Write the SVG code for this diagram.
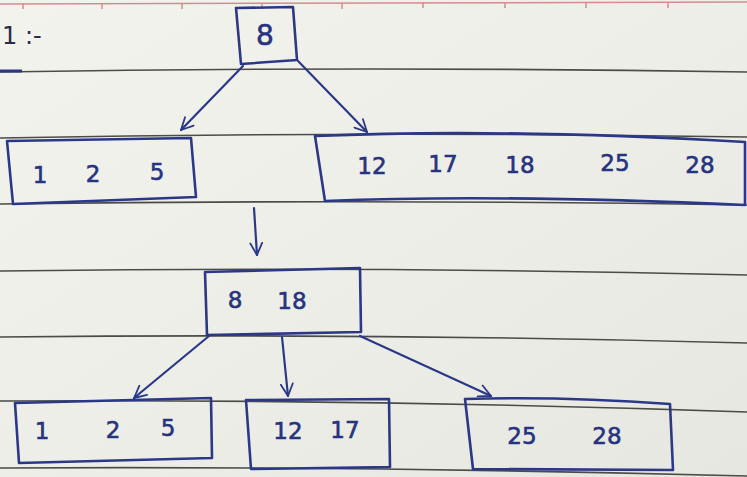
<svg xmlns="http://www.w3.org/2000/svg" width="747" height="477" viewBox="0 0 747 477">
  <defs>
    <linearGradient id="paper" x1="0" y1="0" x2="1" y2="1">
      <stop offset="0" stop-color="#f3f3ee"/>
      <stop offset="0.5" stop-color="#eeeee8"/>
      <stop offset="1" stop-color="#e6e7e1"/>
    </linearGradient>
    <marker id="arr" viewBox="0 0 14 14" refX="13" refY="7" markerWidth="14" markerHeight="14" markerUnits="userSpaceOnUse" orient="auto">
      <path d="M1,1 L13,7 L1,13" fill="none" stroke="#2b3888" stroke-width="1.8" stroke-linecap="round" stroke-linejoin="round"/>
    </marker>
    <style>
      .rule { fill: none; stroke: #4b4c48; stroke-width: 1.6; }
      .margin { fill: none; stroke: #d98a8f; stroke-width: 1.5; }
      .box { fill: none; stroke: #2b3888; stroke-width: 2.6; stroke-linejoin: round; }
      .edge { fill: none; stroke: #2b3888; stroke-width: 2.2; stroke-linecap: round; marker-end: url(#arr); }
      .num { font-family: "DejaVu Sans", "Liberation Sans", sans-serif; fill: #26337f; font-size: 23px; stroke: #26337f; stroke-width: 0.6; }
      .big { font-size: 28px; }
      .note { font-family: "DejaVu Sans", "Liberation Sans", sans-serif; fill: #2a2c4a; font-size: 24px; }
    </style>
  </defs>

  <!-- paper -->
  <rect x="0" y="0" width="747" height="477" fill="url(#paper)"/>
  <path class="margin" d="M0,4 L747,2"/>
  <g class="margin">
    <path d="M23,3 V9"/><path d="M102,3 V9"/><path d="M182,3 V9"/><path d="M262,3 V9"/>
    <path d="M342,3 V9"/><path d="M423,2 V8"/><path d="M505,2 V8"/><path d="M586,2 V8"/><path d="M668,2 V8"/>
  </g>
  <g id="ruled-lines">
    <path class="rule" d="M0,72 Q373,66 747,72"/>
    <path class="rule" d="M0,138 Q373,131 747,137"/>
    <path class="rule" d="M0,204 Q373,199 747,205"/>
    <path class="rule" d="M0,271 Q373,266 747,275"/>
    <path class="rule" d="M0,337 Q373,333 747,343"/>
    <path class="rule" d="M0,401 Q373,399 747,412"/>
    <path class="rule" d="M0,468 Q373,466 747,476"/>
  </g>
  <path d="M0,71 L22,71" stroke="#2b3888" stroke-width="3" fill="none"/>
  <text class="note" x="2" y="44">1 :-</text>

  <!-- connectors -->
  <g id="connectors">
    <path class="edge" d="M243,66 L181,130"/>
    <path class="edge" d="M298,61 L367,132"/>
    <path class="edge" d="M254,208 L257,255"/>
    <path class="edge" d="M209,336 L134,398"/>
    <path class="edge" d="M282,337 L288,396"/>
    <path class="edge" d="M360,336 Q430,368 491,396"/>
  </g>

  <!-- nodes -->
  <g id="root-8">
    <path class="box" d="M236,8 L293,7 L297,60 L241,64 Z"/>
    <text class="num big" x="265" y="45" text-anchor="middle">8</text>
  </g>
  <g id="left-1-2-5">
    <path class="box" d="M7,141 L191,138 L196,197 L13,204 Z"/>
    <text class="num" x="40" y="183" text-anchor="middle">1</text>
    <text class="num" x="93" y="182" text-anchor="middle">2</text>
    <text class="num" x="157" y="180" text-anchor="middle">5</text>
  </g>
  <g id="right-12-17-18-25-28">
    <path class="box" d="M315,136 Q500,128 745,142 L745,205 Q500,194 325,201 Z"/>
    <text class="num" x="372" y="174" text-anchor="middle">12</text>
    <text class="num" x="443" y="172" text-anchor="middle">17</text>
    <text class="num" x="520" y="173" text-anchor="middle">18</text>
    <text class="num" x="615" y="171" text-anchor="middle">25</text>
    <text class="num" x="700" y="173" text-anchor="middle">28</text>
  </g>
  <g id="mid-8-18">
    <path class="box" d="M205,272 L360,268 L361,332 L207,335 Z"/>
    <text class="num" x="235" y="308" text-anchor="middle">8</text>
    <text class="num" x="292" y="309" text-anchor="middle">18</text>
  </g>
  <g id="bottom-1-2-5">
    <path class="box" d="M15,403 L211,398 L212,458 L19,463 Z"/>
    <text class="num" x="42" y="439" text-anchor="middle">1</text>
    <text class="num" x="113" y="438" text-anchor="middle">2</text>
    <text class="num" x="168" y="436" text-anchor="middle">5</text>
  </g>
  <g id="bottom-12-17">
    <path class="box" d="M246,400 L389,399 L390,467 L251,469 Z"/>
    <text class="num" x="288" y="439" text-anchor="middle">12</text>
    <text class="num" x="345" y="438" text-anchor="middle">17</text>
  </g>
  <g id="bottom-25-28">
    <path class="box" d="M465,399 Q560,396 670,404 L673,470 L473,469 Z"/>
    <text class="num" x="522" y="444" text-anchor="middle">25</text>
    <text class="num" x="607" y="444" text-anchor="middle">28</text>
  </g>
</svg>
